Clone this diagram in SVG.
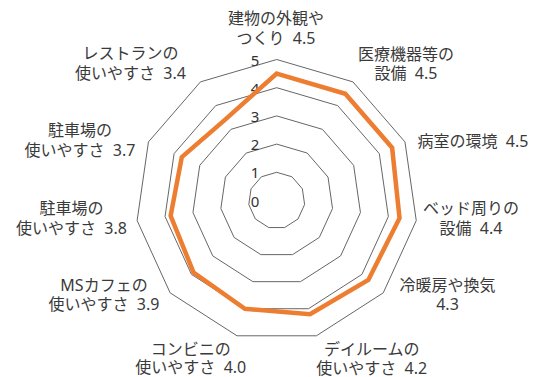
<svg xmlns="http://www.w3.org/2000/svg" width="540" height="377" viewBox="0 0 540 377">
<style>
.grid{fill:none;stroke:#666;stroke-width:1}
.data{fill:none;stroke:#ED7D31;stroke-width:4.5;stroke-linejoin:miter}
.lbl{font-family:"Noto Sans","Noto Sans CJK JP",sans-serif;font-size:16px;fill:#3a3a3a;text-anchor:middle}
.tick{font-family:"Noto Sans","Liberation Sans",sans-serif;font-size:15px;fill:#333;text-anchor:middle}
</style>
<rect width="540" height="377" fill="#fff"/>
<g id="grid">
<polygon class="grid" points="276.7,172.3 291.95,176.78 302.35,188.79 304.61,204.51 298.01,218.97 284.64,227.56 268.76,227.56 255.39,218.97 248.79,204.51 251.05,188.79 261.45,176.78"/>
<polygon class="grid" points="276.7,144.1 307.19,153.05 328,177.07 332.53,208.53 319.32,237.43 292.59,254.62 260.81,254.62 234.08,237.43 220.87,208.53 225.4,177.07 246.21,153.05"/>
<polygon class="grid" points="276.7,115.9 322.44,129.33 353.65,165.36 360.44,212.54 340.64,255.9 300.53,281.67 252.87,281.67 212.76,255.9 192.96,212.54 199.75,165.36 230.96,129.33"/>
<polygon class="grid" points="276.7,87.7 337.68,105.61 379.31,153.64 388.35,216.55 361.95,274.37 308.48,308.73 244.92,308.73 191.45,274.37 165.05,216.55 174.09,153.64 215.72,105.61"/>
<polygon class="grid" points="276.7,59.5 352.93,81.88 404.96,141.93 416.26,220.57 383.26,292.84 316.42,335.79 236.98,335.79 170.14,292.84 137.14,220.57 148.44,141.93 200.46,81.88"/>
</g>
<g id="ticks">
<text class="tick" x="255" y="206.5">0</text>
<text class="tick" x="255" y="178.3">1</text>
<text class="tick" x="255" y="150.1">2</text>
<text class="tick" x="255" y="121.9">3</text>
<text class="tick" x="255" y="93.7">4</text>
<text class="tick" x="255" y="65.5">5</text>
</g>
<g id="connectors">
<polygon class="data" points="276.7,73.6 345.31,93.75 392.13,147.78 399.52,218.16 368.34,279.91 310.07,314.14 244.92,308.73 193.58,272.52 170.63,215.75 181.79,157.15 224.86,119.84"/>
</g>
<g id="n0"><text class="lbl" x="276" y="24">建物の外観や</text><text class="lbl" x="276" y="44">つくり&#160; 4.5</text></g>
<g id="n1"><text class="lbl" x="406" y="60">医療機器等の</text><text class="lbl" x="406" y="79">設備&#160; 4.5</text></g>
<g id="n2"><text class="lbl" x="473" y="147">病室の環境&#160; 4.5</text></g>
<g id="n3"><text class="lbl" x="471" y="214">ベッド周りの</text><text class="lbl" x="471" y="234">設備&#160; 4.4</text></g>
<g id="n4"><text class="lbl" x="447.5" y="291">冷暖房や換気</text><text class="lbl" x="447.5" y="310">4.3</text></g>
<g id="n5"><text class="lbl" x="371.7" y="355">デイルームの</text><text class="lbl" x="371.7" y="374">使いやすさ&#160; 4.2</text></g>
<g id="n6"><text class="lbl" x="190.8" y="354.5">コンビニの</text><text class="lbl" x="190.8" y="373">使いやすさ&#160; 4.0</text></g>
<g id="n7"><text class="lbl" x="104" y="291">MSカフェの</text><text class="lbl" x="104" y="310">使いやすさ&#160; 3.9</text></g>
<g id="n8"><text class="lbl" x="71.5" y="214">駐車場の</text><text class="lbl" x="71.5" y="234">使いやすさ&#160; 3.8</text></g>
<g id="n9"><text class="lbl" x="80" y="136">駐車場の</text><text class="lbl" x="80" y="156">使いやすさ&#160; 3.7</text></g>
<g id="n10"><text class="lbl" x="130.5" y="59">レストランの</text><text class="lbl" x="130.5" y="79">使いやすさ&#160; 3.4</text></g>
</svg>
